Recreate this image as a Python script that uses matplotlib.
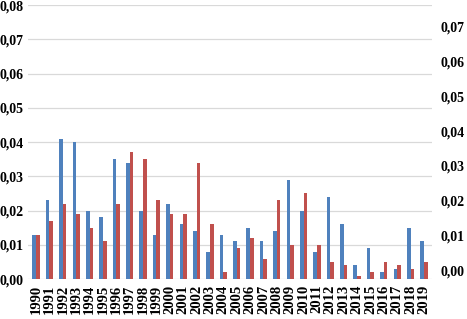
import matplotlib
matplotlib.use("Agg")
import matplotlib.pyplot as plt
from matplotlib import font_manager
import numpy as np

years = [str(y) for y in range(1990, 2020)]
blue_vals = [0.013, 0.023, 0.041, 0.040, 0.020, 0.018, 0.035, 0.034, 0.020, 0.013,
             0.022, 0.016, 0.014, 0.008, 0.013, 0.011, 0.015, 0.011, 0.014, 0.029,
             0.020, 0.008, 0.024, 0.016, 0.004, 0.009, 0.002, 0.003, 0.015, 0.011]
red_vals = [0.013, 0.017, 0.022, 0.019, 0.015, 0.011, 0.022, 0.037, 0.035, 0.023,
            0.019, 0.019, 0.034, 0.016, 0.002, 0.009, 0.012, 0.006, 0.023, 0.010,
            0.025, 0.010, 0.005, 0.004, 0.001, 0.002, 0.005, 0.004, 0.003, 0.005]
left_ticks = [0.00, 0.01, 0.02, 0.03, 0.04, 0.05, 0.06, 0.07, 0.08]
left_labels = ["0,00", "0,01", "0,02", "0,03", "0,04", "0,05", "0,06", "0,07", "0,08"]
right_ticks = [0.00, 0.01, 0.02, 0.03, 0.04, 0.05, 0.06, 0.07]
right_labels = ["0,00", "0,01", "0,02", "0,03", "0,04", "0,05", "0,06", "0,07"]

names = {f.name for f in font_manager.fontManager.ttflist}
fam = 'Liberation Serif' if 'Liberation Serif' in names else 'DejaVu Serif'
plt.rcParams['font.family'] = 'serif'
plt.rcParams['font.serif'] = [fam, 'DejaVu Serif']
plt.rcParams['font.weight'] = 'bold'

fig = plt.figure(figsize=(4.67, 3.19), dpi=100)
ax = fig.add_axes([0.060, 0.125, 0.865, 0.859])

x = np.arange(len(years))
w = 0.27
ax.bar(x - w / 2, blue_vals, width=w, color="#4F81BD", zorder=3)
ax.bar(x + w / 2, red_vals, width=w, color="#C0504D", zorder=3)

ax.set_xlim(-0.6, len(years) - 0.4)
ax.set_ylim(0, 0.08)
ax.set_yticks(left_ticks)
ax.set_yticklabels(left_labels, fontsize=10, fontweight='bold')
ax.set_xticks(x)
ax.set_xticklabels(years, rotation=90, fontsize=10.5, fontweight='bold')
ax.tick_params(axis='both', length=0)
ax.tick_params(axis='y', pad=3)
ax.tick_params(axis='x', pad=4)
ax.grid(axis='y', color="#D9D9D9", linewidth=0.9, zorder=0)
for s in ax.spines.values():
    s.set_visible(False)

ax2 = ax.twinx()
ax2.set_ylim(-0.0026, 0.0763)
ax2.set_yticks(right_ticks)
ax2.set_yticklabels(right_labels, fontsize=10, fontweight='bold')
ax2.tick_params(axis='y', length=0, pad=6)
for s in ax2.spines.values():
    s.set_visible(False)

fig.savefig("out.png", dpi=100)
